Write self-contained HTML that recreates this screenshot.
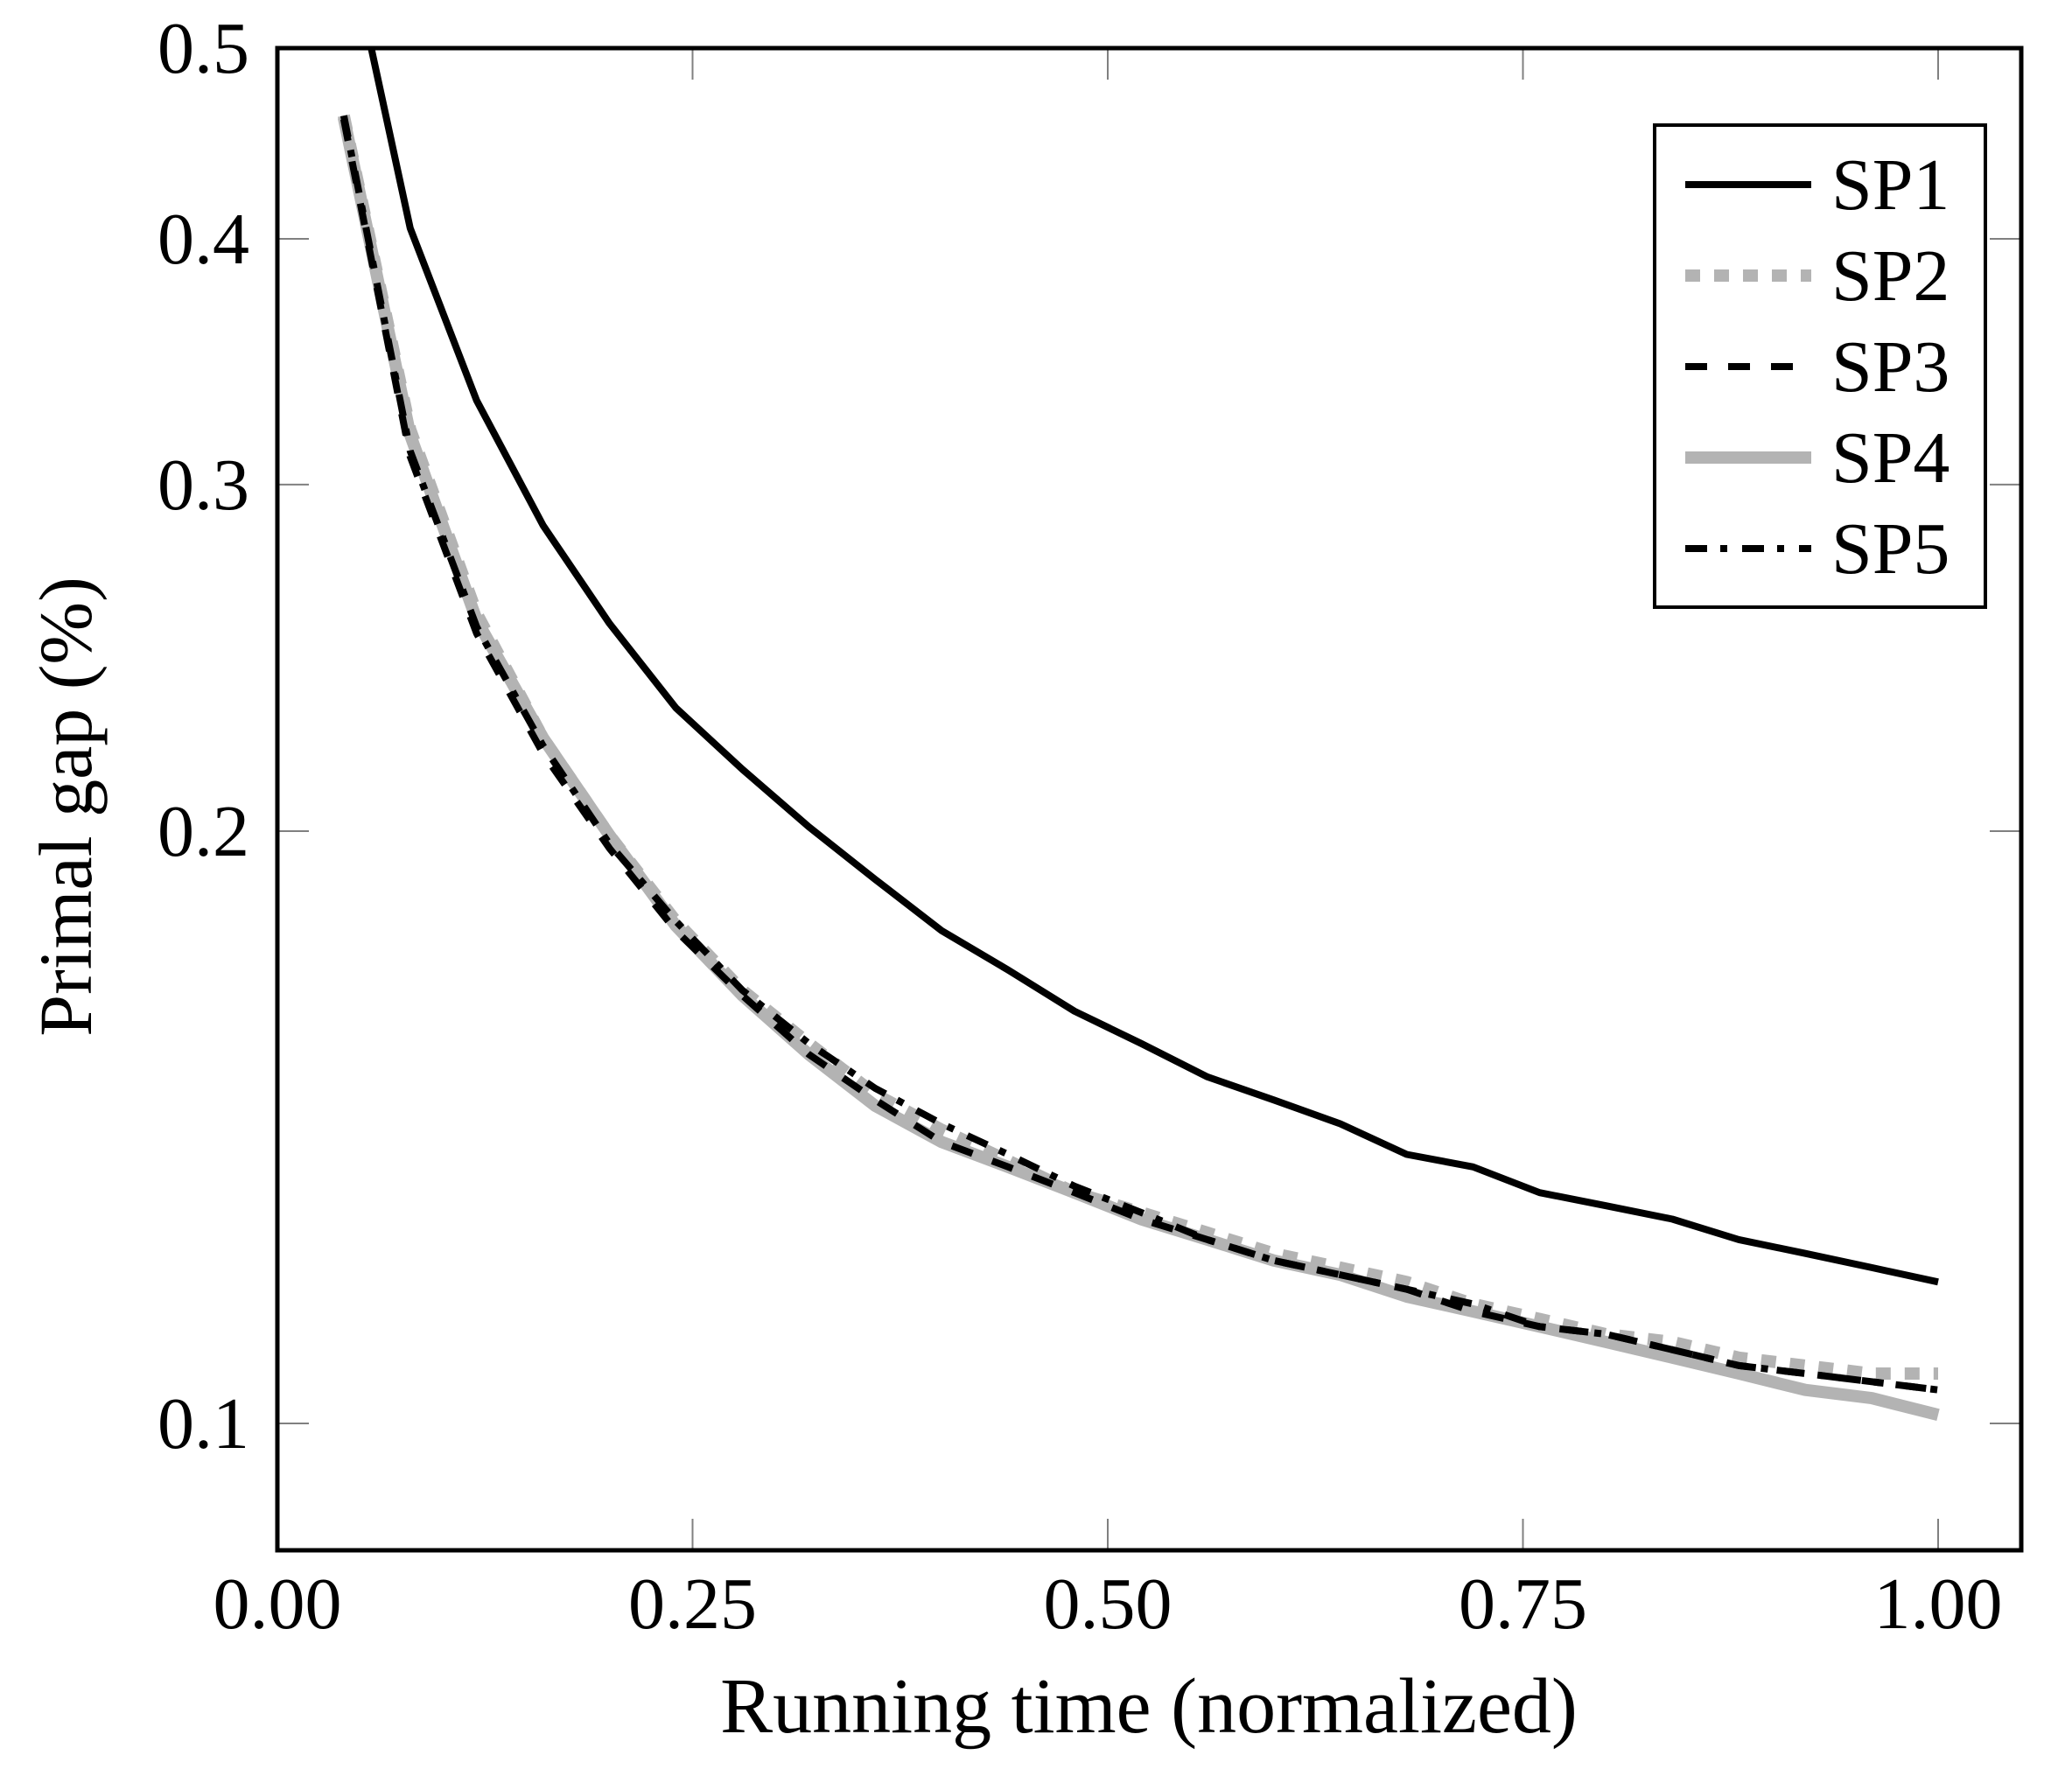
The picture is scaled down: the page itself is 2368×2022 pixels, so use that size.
<!DOCTYPE html>
<html><head><meta charset="utf-8"><style>
html,body{margin:0;padding:0;background:#fff;}
svg{display:block;}
text{font-family:"Liberation Serif",serif;fill:#000;}
</style></head><body>
<svg id="chart" width="2368" height="2022" viewBox="0 0 2368 2022" xmlns="http://www.w3.org/2000/svg">
<g id="plot"></g>
</svg>
<script>
const xs = [0.04,0.08,0.12,0.16,0.20,0.24,0.28,0.32,0.36,0.40,0.44,0.48,0.52,0.56,0.60,0.64,0.68,0.72,0.76,0.80,0.84,0.88,0.92,0.96,1.00];
const sp1 = [0.58,0.405,0.331,0.286,0.255,0.231,0.215,0.201,0.189,0.178,0.170,0.162,0.156,0.150,0.146,0.142,0.137,0.135,0.131,0.129,0.127,0.124,0.122,0.120,0.118];
const sp2 = [0.462,0.320,0.258,0.223,0.199,0.180,0.166,0.156,0.147,0.141,0.136,0.131,0.128,0.125,0.122,0.120,0.118,0.115,0.113,0.111,0.110,0.108,0.107,0.106,0.106];
const sp3 = [0.460,0.310,0.252,0.219,0.196,0.178,0.165,0.154,0.146,0.139,0.135,0.131,0.127,0.124,0.121,0.119,0.117,0.114,0.112,0.111,0.109,0.107,0.106,0.105,0.104];
const sp4 = [0.461,0.318,0.256,0.223,0.199,0.179,0.165,0.154,0.145,0.139,0.135,0.131,0.127,0.124,0.121,0.119,0.116,0.114,0.112,0.110,0.108,0.106,0.104,0.103,0.101];
const sp5 = [0.462,0.312,0.254,0.221,0.197,0.180,0.166,0.156,0.148,0.142,0.137,0.132,0.128,0.124,0.121,0.119,0.117,0.115,0.112,0.111,0.109,0.107,0.106,0.105,0.104];
const xTicks = [0, 0.25, 0.5, 0.75, 1.0];
const xTickLabels = ["0.00","0.25","0.50","0.75","1.00"];
const yTicks = [0.1, 0.2, 0.3, 0.4, 0.5];
const yTickLabels = ["0.1","0.2","0.3","0.4","0.5"];
const seriesNames = ["SP1","SP2","SP3","SP4","SP5"];

const L=317,R=2310,T=55,B=1772;
const X0=0,X1=1.05,YMAX=0.5,YMIN=0.0862;
const PX_X0=317, PX_X1=2215;
const sx=v=>PX_X0+(v-X0)*(PX_X1-PX_X0);
const sy=v=>T+Math.log(YMAX/v)/Math.log(YMAX/YMIN)*(B-T);
const NS="http://www.w3.org/2000/svg";
const g=document.getElementById('plot');
function mk(tag,attrs,parent){const e=document.createElementNS(NS,tag);for(const k in attrs)e.setAttribute(k,attrs[k]);(parent||g).appendChild(e);return e;}

const defs=mk('defs',{});
const cp=mk('clipPath',{id:'clip'},defs);
mk('rect',{x:L,y:T,width:R-L,height:B-T},cp);

const styles=[
 {stroke:'#000',w:8,dash:''},
 {stroke:'#b3b3b3',w:14,dash:'17 16'},
 {stroke:'#000',w:8,dash:'25 24'},
 {stroke:'#b3b3b3',w:14,dash:''},
 {stroke:'#000',w:8,dash:'25 15 8 17'}
];
const allSeries=[sp1,sp2,sp3,sp4,sp5];
const drawOrder=[1,3,2,4,0];

xTicks.forEach((t,i)=>{
 const x=sx(t);
 mk('line',{x1:x,y1:B,x2:x,y2:B-36,stroke:'#808080','stroke-width':2});
 mk('line',{x1:x,y1:T,x2:x,y2:T+36,stroke:'#808080','stroke-width':2});
 const tx=mk('text',{x:x,y:1861,'font-size':84,'text-anchor':'middle'});
 tx.textContent=xTickLabels[i];
 
 
});
yTicks.forEach((t,i)=>{
 const y=sy(t);
 mk('line',{x1:L,y1:y,x2:L+36,y2:y,stroke:'#808080','stroke-width':2});
 mk('line',{x1:R,y1:y,x2:R-36,y2:y,stroke:'#808080','stroke-width':2});
 const tx=mk('text',{x:285,y:y+28,'font-size':84,'text-anchor':'end'});
 tx.textContent=yTickLabels[i];
 
 
});

drawOrder.forEach(i=>{
 const d=xs.map((x,j)=>(j?'L':'M')+sx(x).toFixed(1)+','+sy(allSeries[i][j]).toFixed(1)).join(' ');
 const p=mk('path',{d:d,fill:'none',stroke:styles[i].stroke,'stroke-width':styles[i].w,'stroke-dasharray':styles[i].dash,'clip-path':'url(#clip)','stroke-linejoin':'round'});
 
 
});

const frame=mk('rect',{x:L,y:T,width:R-L,height:B-T,fill:'none',stroke:'#000','stroke-width':5});



const xt=mk('text',{x:1313,y:1980,'font-size':90,'text-anchor':'middle'});
xt.textContent='Running time (normalized)';


const yt=mk('text',{x:0,y:0,'font-size':86,'text-anchor':'middle',transform:'translate(104,922) rotate(-90)'});
yt.textContent='Primal gap (%)';



const lg=mk('g',{});


mk('rect',{x:1891,y:143,width:378,height:551,fill:'#fff',stroke:'#000','stroke-width':4},lg);
seriesNames.forEach((n,i)=>{
 const y=211+i*104;
 const e=mk('g',{},lg);
 
 
 mk('line',{x1:1926,y1:y,x2:2070,y2:y,stroke:styles[i].stroke,'stroke-width':styles[i].w,'stroke-dasharray':styles[i].dash},e);
 const t=mk('text',{x:2093,y:y+28,'font-size':84},e);
 t.textContent=n;
});
</script>
</body></html>
